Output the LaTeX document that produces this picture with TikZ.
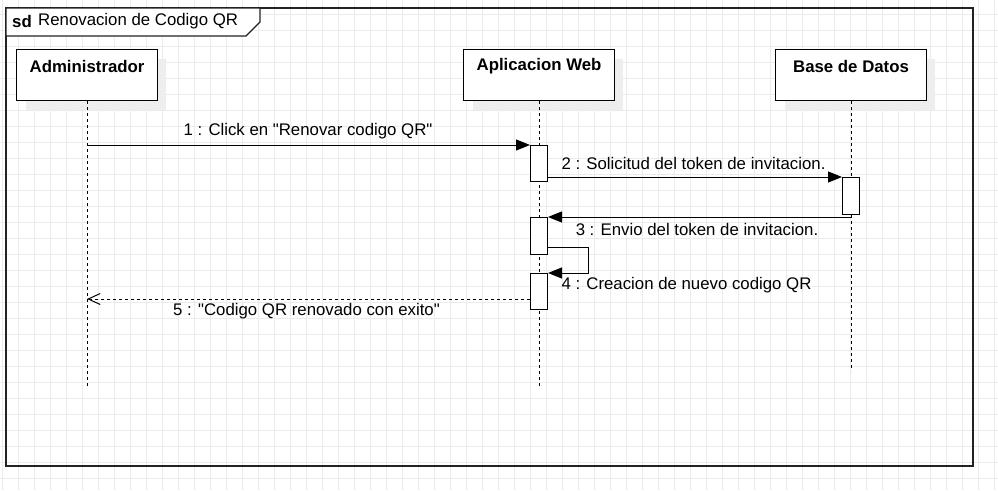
\documentclass[tikz,border=0pt]{standalone}
\usepackage{fontspec}
\setmainfont{Liberation Sans}
\newfontfamily\lsans{Liberation Sans}
\usetikzlibrary{arrows.meta}
\definecolor{gridc}{HTML}{EBEBEB}
\definecolor{shad}{HTML}{EEEEEE}
\definecolor{framec}{HTML}{222222}
\begin{document}
\begin{tikzpicture}[x=1pt,y=-1pt,
  font=\lsans\fontsize{16.8}{20}\selectfont,
  bfont/.style={font=\lsans\fontsize{16.8}{20}\selectfont\bfseries},
  lifebox/.style={draw,fill=white,minimum height=51pt,inner sep=0pt,anchor=north west,line width=1.1pt},
  actbox/.style={draw,fill=white,minimum width=17pt,inner sep=0pt,anchor=north west,line width=1pt},
  lifeline/.style={line width=1pt,dash pattern=on 3pt off 3pt},
  msg/.style={line width=1pt,-{Triangle[length=14pt,width=11pt]}},
  retmsg/.style={line width=1pt,dash pattern=on 3pt off 3pt,-{Straight Barb[length=12pt,width=11pt]}},
  lbl/.style={inner sep=0pt}]
\useasboundingbox (0,0) rectangle (998,490);
\fill[white] (0,0) rectangle (998,490);
\foreach \gx in {2,18,...,994} \draw[gridc,line width=1pt] (\gx,0) -- (\gx,490);
\foreach \gy in {14,30,...,486} \draw[gridc,line width=1pt] (0,\gy) -- (998,\gy);
% frame
\draw[framec,line width=1.4pt] (6,8) rectangle (973,466);
\draw[framec,line width=1.2pt,fill=white] (6,8) -- (260,8) -- (260,22) -- (246,36) -- (6,36) -- cycle;
\node[lbl,anchor=west,bfont] (sd) at (12,21) {sd};
\node[lbl,anchor=west] (title) at (38,21) {Renovacion de Codigo QR};
% shadows
\fill[shad] (26,59) rectangle (166,110);
\fill[shad] (473,59) rectangle (623,110);
\fill[shad] (785,59) rectangle (935,110);
% lifeline heads
\node[lifebox,minimum width=141pt] (admin) at (16,49) {};
\node[lifebox,minimum width=151pt] (app) at (463,49) {};
\node[lifebox,minimum width=151pt] (bd) at (775,49) {};
\node[lbl,bfont] (admint) at ([yshift=-17pt]admin.north) {Administrador};
\node[lbl,bfont] (appt) at ([yshift=-17pt]app.north) {Aplicacion Web};
\node[lbl,bfont] (bdt) at ([yshift=-17pt]bd.north) {Base de Datos};
% lifelines
\draw[lifeline] (admin.south) -- ++(0,285);
\draw[lifeline] (app.south) -- ++(0,285);
\draw[lifeline] (bd.south) -- ++(0,270);
% activations
\node[actbox,minimum height=36pt] (a1) at (530,145) {};
\node[actbox,minimum height=37pt] (b1) at (842,177) {};
\node[actbox,minimum height=37pt] (a2) at (530,217) {};
\node[actbox,minimum height=36pt] (a3) at (530,273) {};
% messages
\draw[msg] (admin.south |- a1.north) -- (a1.north west);
\node[lbl] (l1) at (308,131) {1 : Click en "Renovar codigo QR"};
\draw[msg] (a1.east |- b1.north) -- (b1.north west);
\node[lbl] (l2) at (693.5,163) {2 : Solicitud del token de invitacion.};
\draw[msg] (bd.south |- a2.north) -- (a2.north east);
\node[lbl] (l3) at (697,229) {3 : Envio del token de invitacion.};
\draw[msg] ([yshift=-30pt]a2.north east) -- ++(40,0) |- (a3.north east);
\node[lbl] (l4) at (686.5,285) {4 : Creacion de nuevo codigo QR};
\coordinate (m5s) at ([yshift=-26pt]a3.north west);
\draw[retmsg] (m5s) -- (admin.south |- m5s);
\node[lbl] (l5) at (306.5,311) {5 : "Codigo QR renovado con exito"};
\end{tikzpicture}
\end{document}
